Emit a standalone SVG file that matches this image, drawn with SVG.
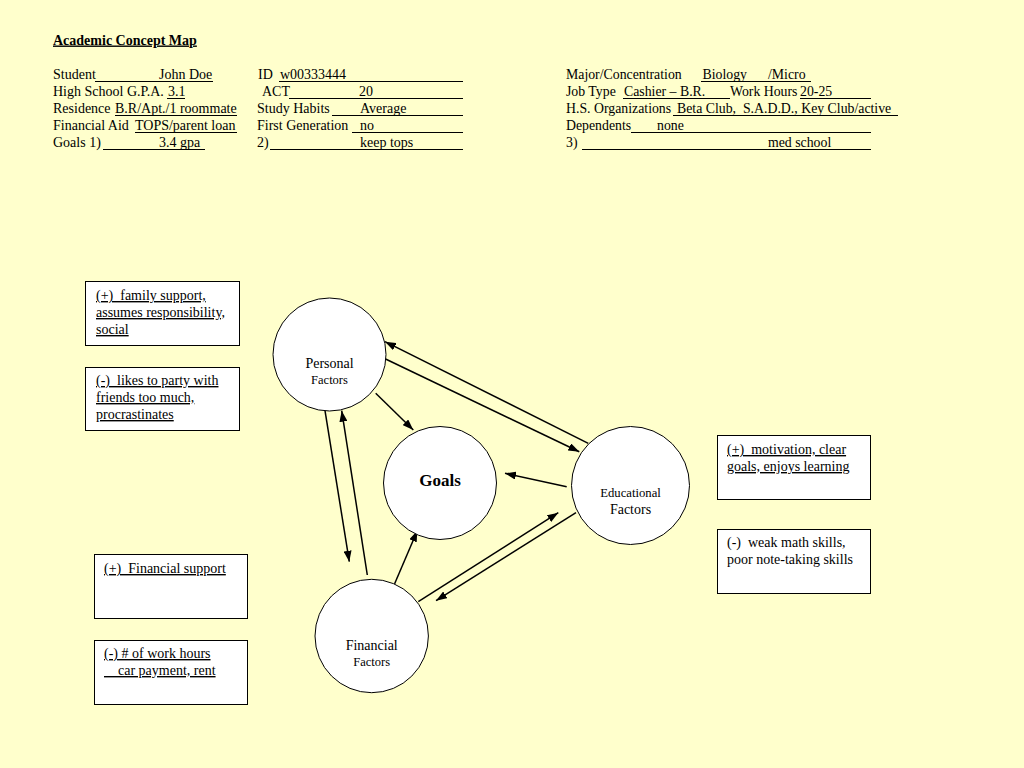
<svg xmlns="http://www.w3.org/2000/svg" width="1024" height="768" viewBox="0 0 1024 768">
<defs>
<marker id="ah" markerUnits="userSpaceOnUse" markerWidth="11" markerHeight="8" refX="11" refY="4" orient="auto">
<path d="M0,0 L11,4 L0,8 z" fill="#000"/>
</marker>
<style>
text { font-family: "Liberation Serif", "Times New Roman", serif; fill: #000; white-space: pre; }
.h { font-size: 14px; }
.h3 { font-size: 13.8px; }
.t { font-size: 14px; font-weight: bold; text-decoration: underline; }
.ul { stroke: #000; stroke-width: 1; }
.box { fill: #fff; stroke: #000; stroke-width: 1; }
.bt { font-size: 14px; }
.bu { font-size: 14px; text-decoration: underline; }
.node { fill: #fff; stroke: #000; stroke-width: 1; }
.conn line { stroke: #000; stroke-width: 1.5; marker-end: url(#ah); }
</style>
</defs>
<rect width="1024" height="768" fill="#FFFFCC"/>

<g id="header">
<text class="t" x="53" y="44.5">Academic Concept Map</text>
<text class="h" x="53" y="79">Student</text>
<text class="h" x="159" y="79">John Doe</text>
<line class="ul" x1="95" y1="81.5" x2="213" y2="81.5"/>
<text class="h" x="53" y="96">High School G.P.A.</text>
<text class="h" x="168" y="96">3.1</text>
<line class="ul" x1="167" y1="98.5" x2="185" y2="98.5"/>
<text class="h" x="53" y="113">Residence</text>
<text class="h" x="115" y="113">B.R/Apt./1 roommate</text>
<line class="ul" x1="115" y1="115.5" x2="237" y2="115.5"/>
<text class="h" x="53" y="130">Financial Aid</text>
<text class="h" x="135" y="130">TOPS/parent loan</text>
<line class="ul" x1="135" y1="132.5" x2="237" y2="132.5"/>
<text class="h" x="53" y="147">Goals 1)</text>
<text class="h" x="159" y="147">3.4 gpa</text>
<line class="ul" x1="103" y1="149.5" x2="205" y2="149.5"/>

<text class="h" x="258" y="79">ID</text>
<text class="h" x="280" y="79">w00333444</text>
<line class="ul" x1="279" y1="81.5" x2="463" y2="81.5"/>
<text class="h" x="262" y="96">ACT</text>
<text class="h" x="359" y="96">20</text>
<line class="ul" x1="289" y1="98.5" x2="463" y2="98.5"/>
<text class="h" x="257" y="113">Study Habits</text>
<text class="h" x="360" y="113">Average</text>
<line class="ul" x1="332" y1="115.5" x2="463" y2="115.5"/>
<text class="h" x="257" y="130">First Generation</text>
<text class="h" x="360" y="130">no</text>
<line class="ul" x1="352" y1="132.5" x2="463" y2="132.5"/>
<text class="h" x="257" y="147">2)</text>
<text class="h" x="360" y="147">keep tops</text>
<line class="ul" x1="270" y1="149.5" x2="463" y2="149.5"/>

<text class="h3" x="566" y="79">Major/Concentration</text>
<text class="h3" x="702.5" y="79">Biology</text>
<text class="h3" x="768" y="79">/Micro</text>
<line class="ul" x1="701" y1="81.5" x2="811" y2="81.5"/>
<text class="h3" x="566" y="96">Job Type</text>
<text class="h3" x="624" y="96">Cashier – B.R.</text>
<line class="ul" x1="623" y1="98.5" x2="730" y2="98.5"/>
<text class="h3" x="730" y="96">Work Hours</text>
<text class="h3" x="800" y="96">20-25</text>
<line class="ul" x1="800" y1="98.5" x2="871" y2="98.5"/>
<text class="h3" x="566" y="113">H.S. Organizations</text>
<text class="h3" x="677" y="113">Beta Club,  S.A.D.D., Key Club/active</text>
<line class="ul" x1="673" y1="115.5" x2="898" y2="115.5"/>
<text class="h3" x="566" y="130">Dependents</text>
<text class="h3" x="657" y="130">none</text>
<line class="ul" x1="631" y1="132.5" x2="871" y2="132.5"/>
<text class="h3" x="566" y="147">3)</text>
<text class="h3" x="768" y="147">med school</text>
<line class="ul" x1="582" y1="149.5" x2="871" y2="149.5"/>
</g>

<g id="box-personal-plus">
<rect class="box" x="85.5" y="281.5" width="154" height="64"/>
<text class="bu" x="96" y="300">(+)  family support,</text>
<text class="bu" x="96" y="317">assumes responsibility,</text>
<text class="bu" x="96" y="334">social</text>
</g>
<g id="box-personal-minus">
<rect class="box" x="85.5" y="367.5" width="154" height="63"/>
<text class="bu" x="96" y="385">(-)  likes to party with</text>
<text class="bu" x="96" y="402">friends too much,</text>
<text class="bu" x="96" y="419">procrastinates</text>
</g>
<g id="box-edu-plus">
<rect class="box" x="717.5" y="435.5" width="153" height="64"/>
<text class="bu" x="727" y="454">(+)  motivation, clear</text>
<text class="bu" x="727" y="471">goals, enjoys learning</text>
</g>
<g id="box-edu-minus">
<rect class="box" x="717.5" y="529.5" width="153" height="64"/>
<text class="bt" x="727" y="547">(-)  weak math skills,</text>
<text class="bt" x="727" y="564">poor note-taking skills</text>
</g>
<g id="box-fin-plus">
<rect class="box" x="94.5" y="554.5" width="153" height="64"/>
<text class="bu" x="104" y="573">(+)  Financial support</text>
</g>
<g id="box-fin-minus">
<rect class="box" x="94.5" y="640.5" width="153" height="64"/>
<text class="bu" x="104" y="658">(-) # of work hours</text>
<text class="bu" x="104" y="675">    car payment, rent</text>
</g>

<g class="conn" id="connectors">
<line x1="588.3" y1="443.3" x2="385" y2="341.7"/>
<line x1="384" y1="358.3" x2="579.3" y2="451.7"/>
<line x1="375.7" y1="393.3" x2="413.3" y2="430"/>
<line x1="566.7" y1="486.7" x2="505" y2="473.3"/>
<line x1="325" y1="410.7" x2="349.3" y2="561.7"/>
<line x1="367.3" y1="575" x2="341.7" y2="410.7"/>
<line x1="392.7" y1="588.3" x2="417.3" y2="530.7"/>
<line x1="418.3" y1="601.7" x2="558.3" y2="512.7"/>
<line x1="576" y1="512.7" x2="436" y2="600.7"/>
</g>

<g id="node-personal">
<circle class="node" cx="329.5" cy="354.5" r="56.5"/>
<text x="329.5" y="367.5" text-anchor="middle" font-size="14">Personal</text>
<text x="329.5" y="383.5" text-anchor="middle" font-size="12.5">Factors</text>
</g>
<g id="node-goals">
<circle class="node" cx="440" cy="483" r="56.5"/>
<text x="440" y="486" text-anchor="middle" font-size="17" font-weight="bold">Goals</text>
</g>
<g id="node-educational">
<circle class="node" cx="630.5" cy="485.5" r="59"/>
<text x="630.5" y="497" text-anchor="middle" font-size="12.7">Educational</text>
<text x="630.5" y="514" text-anchor="middle" font-size="14">Factors</text>
</g>
<g id="node-financial">
<circle class="node" cx="371.7" cy="636" r="56.7"/>
<text x="371.7" y="649.5" text-anchor="middle" font-size="14">Financial</text>
<text x="371.7" y="665.5" text-anchor="middle" font-size="12.5">Factors</text>
</g>
</svg>
